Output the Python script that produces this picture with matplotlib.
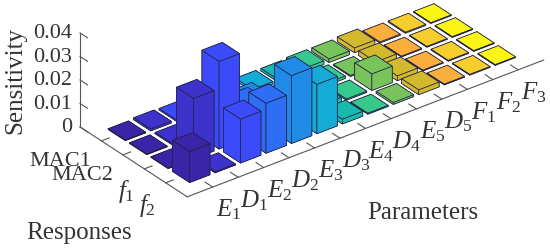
import numpy as np
import matplotlib
matplotlib.use('Agg')
import matplotlib.pyplot as plt
from mpl_toolkits.mplot3d import proj3d

plt.rcParams['font.family'] = 'Liberation Serif'
plt.rcParams['mathtext.fontset'] = 'custom'
plt.rcParams['mathtext.rm'] = 'Liberation Serif'
plt.rcParams['mathtext.it'] = 'Liberation Serif:italic'

# Parameters along x, responses along y
parametros = ['E_1', 'D_1', 'E_2', 'D_2', 'E_3', 'D_3', 'E_4', 'D_4', 'E_5', 'D_5', 'F_1', 'F_2', 'F_3']
respuestas = ['MAC1', 'MAC2', '$f_1$', '$f_2$']
z_ticks = [0, 0.01, 0.02, 0.03, 0.04]
z_labels = ['0', '0.01', '0.02', '0.03', '0.04']

# Sensitivity
mac1 = [0.0003, 0.0008, 0.0006, 0.001, 0.001, 0.001, 0.001, 0.0015, 0.0015, 0.002, 0.0004, 0.0004, 0.0003]
mac2 = [0.0003, 0.0005, 0.0006, 0.001, 0.006, 0.001, 0.001, 0.001, 0.0004, 0.002, 0.0003, 0.0003, 0.0003]
f1 = [0.0003, 0.0257, 0.0373, 0.014, 0.003, 0.001, 0.002, 0.0005, 0.007, 0.002, 0.0003, 0.0003, 0.0003]
f2 = [0.0132, 0.0004, 0.0187, 0.0213, 0.0289, 0.021, 0.002, 0.0004, 0.0008, 0.002, 0.0003, 0.0003, 0.0003]
sensibilidad = [mac1, mac2, f1, f2]

colores = ['#3a25a8', '#3e32cd', '#3c4bfa', '#2d6ef5', '#1e8ce6', '#16aad7', '#19b9af',
           '#37c88c', '#78c35a', '#d2b92d', '#faaf3c', '#f5cd2d', '#faf514']

fig = plt.figure(figsize=(5.5, 2.49), dpi=100)
ax = fig.add_axes([29.4 / 550, -0.321, 1, 550 / 249], projection='3d', proj_type='ortho')
ax.computed_zorder = False
ax.view_init(elev=30, azim=-127.5)
ax.set_box_aspect((449, 176, 108.5), zoom=0.873)
ax.set_axis_off()

# Back to front so the bars overlap correctly
orden = 10
for i in range(len(parametros) - 1, -1, -1):
    for j in range(len(respuestas)):
        ax.bar3d(i + 1 - 0.4, j + 1 - 0.4, 0, 0.8, 0.8, sensibilidad[j][i], color=colores[i],
                 edgecolor='#222244', linewidth=0.5, shade=False, zorder=orden)
        orden += 1

ax.set_xlim(0, 14)
ax.set_ylim(5, 0)
ax.set_zlim(0, 0.04)


def etiqueta(x, y, z, texto, **kw):
    # 3D position to 2D text
    X, Y, _ = proj3d.proj_transform(x, y, z, ax.get_proj())
    ax.text2D(X, Y, texto, transform=ax.transData, color='#333333', va='center', **kw)


# Axis lines and ticks
c_eje = '#555555'
ax.plot([0, 0], [0, 5], [0, 0], color=c_eje, lw=0.8, zorder=1)
ax.plot([0, 14], [5, 5], [0, 0], color=c_eje, lw=0.8, zorder=1)
ax.plot([0, 0], [0, 0], [0, 0.04], color=c_eje, lw=0.8, zorder=1)
for i in range(len(parametros)):
    ax.plot([i + 1, i + 1], [5, 4.65], [0, 0], color=c_eje, lw=0.8, zorder=1)
    etiqueta(i + 1 - 0.474, 6.31, 0, '$' + parametros[i] + '$', fontsize=18, ha='center')
for j in range(len(respuestas)):
    ax.plot([0, 0.3], [j + 1, j + 1], [0, 0], color=c_eje, lw=0.8, zorder=1)
    if j > 1:
        etiqueta(-1.12, j + 1 + 0.861, 0, respuestas[j], fontsize=18, ha='right')
    else:
        etiqueta(-1.025, j + 1 + 0.748, 0, respuestas[j], fontsize=16, ha='right')
for k in range(len(z_ticks)):
    ax.plot([0, 0], [0, 0.35], [z_ticks[k], z_ticks[k]], color=c_eje, lw=0.8, zorder=1)
    etiqueta(-0.236, -0.0935, z_ticks[k], z_labels[k], fontsize=16, ha='right')

fig.text(15 / 550, 1 - 80 / 249, 'Sensitivity', rotation=90, fontsize=18, ha='center', va='center', color='#333333')
fig.text(79 / 550, 1 - 233 / 249, 'Responses', fontsize=18, ha='center', va='center', color='#333333')
fig.text(423 / 550, 1 - 213 / 249, 'Parameters', fontsize=18, ha='center', va='center', color='#333333')

fig.savefig('out.png', dpi=100)
